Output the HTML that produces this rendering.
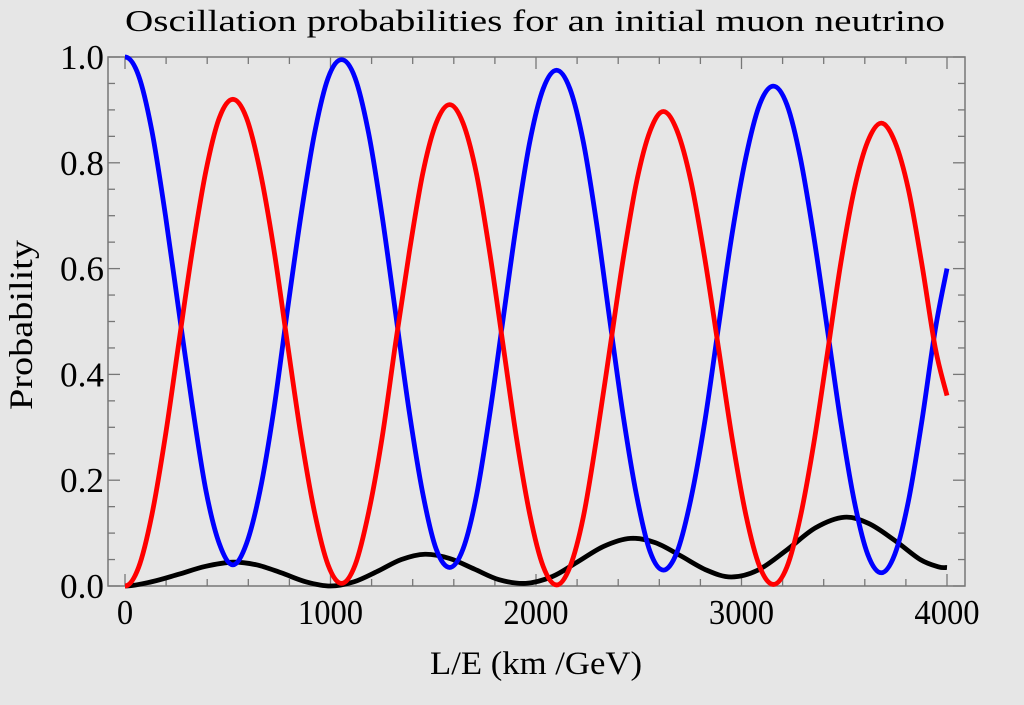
<!DOCTYPE html>
<html><head><meta charset="utf-8"><style>
body{margin:0;background:#e6e6e6;}
svg{display:block;font-family:"Liberation Serif",serif;}
</style></head><body>
<svg id="chart" width="1024" height="705" viewBox="0 0 1024 705">
<rect x="0" y="0" width="1024" height="705" fill="#e6e6e6"/>
<text x="125" y="31" font-size="31" textLength="820" lengthAdjust="spacingAndGlyphs">Oscillation probabilities for an initial muon neutrino</text>
<g id="axes"></g>
<g id="series"></g>
<text x="430" y="674" font-size="33" textLength="212" lengthAdjust="spacingAndGlyphs">L/E (km /GeV)</text>
<text transform="translate(32,410) rotate(-90)" font-size="33" textLength="170" lengthAdjust="spacingAndGlyphs">Probability</text>
</svg>
<script>
const xTicks=[0,1000,2000,3000,4000];
const yTicks=[0,0.2,0.4,0.6,0.8,1.0];
const yTickLabels=["0.0","0.2","0.4","0.6","0.8","1.0"];
const blueX=[0,66,131,197,262,328,394,459,525,591,657,723,790,856,922,988,1054,1120,1186,1251,1317,1383,1449,1514,1580,1645,1710,1775,1840,1905,1970,2035,2100,2165,2230,2295,2360,2425,2490,2555,2620,2687,2754,2821,2888,2954,3021,3088,3155,3221,3286,3352,3418,3483,3549,3614,3680,3746,3812,3877,3943,4000];
const blueY=[1.0,0.965,0.86,0.70,0.52,0.34,0.18,0.08,0.04,0.08,0.18,0.33,0.52,0.70,0.855,0.96,0.995,0.96,0.855,0.70,0.515,0.33,0.175,0.07,0.035,0.07,0.17,0.325,0.505,0.685,0.84,0.94,0.975,0.94,0.84,0.685,0.50,0.32,0.17,0.065,0.03,0.065,0.165,0.31,0.49,0.665,0.81,0.91,0.945,0.91,0.81,0.66,0.485,0.31,0.16,0.06,0.025,0.06,0.16,0.31,0.485,0.6];
const redX=blueX.slice();
const redY=[0,0.035,0.135,0.285,0.46,0.635,0.785,0.885,0.92,0.885,0.785,0.64,0.46,0.285,0.14,0.04,0.005,0.04,0.14,0.28,0.46,0.63,0.78,0.875,0.91,0.875,0.78,0.63,0.455,0.28,0.135,0.037,0.002,0.036,0.13,0.28,0.45,0.62,0.765,0.86,0.897,0.86,0.765,0.62,0.45,0.28,0.135,0.037,0.003,0.036,0.13,0.27,0.44,0.61,0.75,0.84,0.875,0.84,0.75,0.61,0.45,0.36];
const blackX=[0,130,260,390,525,640,760,880,1000,1115,1230,1345,1460,1580,1700,1820,1950,2080,2200,2330,2460,2580,2700,2830,2950,3080,3220,3360,3500,3620,3750,3870,3960,4000];
const blackY=[0,0.008,0.022,0.037,0.045,0.04,0.025,0.008,0.0,0.008,0.028,0.05,0.06,0.052,0.032,0.012,0.005,0.018,0.045,0.075,0.09,0.082,0.058,0.03,0.017,0.03,0.068,0.11,0.13,0.118,0.085,0.05,0.036,0.035];
const L=108,R=965,T=57,B=586,X0=125,X1=947;
const sx=v=>X0+(v/4000)*(X1-X0);
const sy=v=>B-v*(B-T);
const NS="http://www.w3.org/2000/svg";
const axes=document.getElementById('axes'),series=document.getElementById('series');
function mk(t,a,p){const e=document.createElementNS(NS,t);for(const k in a)e.setAttribute(k,a[k]);p.appendChild(e);return e;}
const fr=mk('rect',{x:L,y:T,width:R-L,height:B-T,fill:'none',stroke:'#777','stroke-width':1.5},axes);


for(let v=0;v<=4000;v+=200){const major=v%1000===0;const len=major?12:7;const x=sx(v);
 const t1=mk('line',{x1:x,y1:B,x2:x,y2:B-len,stroke:'#777','stroke-width':1.3},axes);
 
 
 const t2=mk('line',{x1:x,y1:T,x2:x,y2:T+len,stroke:'#777','stroke-width':1.3},axes);
 
 }
for(let i=0;i<=20;i++){const v=i*0.05;const major=i%4===0;const len=major?12:7;const y=sy(v);
 const t1=mk('line',{x1:L,y1:y,x2:L+len,y2:y,stroke:'#777','stroke-width':1.3},axes);
 
 
 const t2=mk('line',{x1:R,y1:y,x2:R-len,y2:y,stroke:'#777','stroke-width':1.3},axes);
 
 }
xTicks.forEach(v=>{const s=String(v);const w=s.length*16.3;
 const t=mk('text',{x:sx(v)-w/2,y:624,'font-size':35,textLength:w,lengthAdjust:'spacingAndGlyphs'},axes);t.textContent=s;
 
 });
yTicks.forEach((v,i)=>{const t=mk('text',{x:60,y:sy(v)+12,'font-size':35,textLength:44,lengthAdjust:'spacingAndGlyphs'},axes);t.textContent=yTickLabels[i];
 
 });
function path(xs,ys){const p=xs.map((x,i)=>[sx(x),sy(ys[i])]);let d='M'+p[0][0]+','+p[0][1];
 for(let i=0;i<p.length-1;i++){const p0=p[i-1]||[2*p[0][0]-p[1][0],p[1][1]],p1=p[i],p2=p[i+1],p3=p[i+2]||p2;
  d+=' C'+(p1[0]+(p2[0]-p0[0])/6)+','+(p1[1]+(p2[1]-p0[1])/6)+' '+(p2[0]-(p3[0]-p1[0])/6)+','+(p2[1]-(p3[1]-p1[1])/6)+' '+p2[0]+','+p2[1];}
 return d;}
const lb=mk('path',{d:path(blackX,blackY),fill:'none',stroke:'#000','stroke-width':4.8},series);


const lbl=mk('path',{d:path(blueX,blueY),fill:'none',stroke:'#0000ff','stroke-width':4.8},series);


const lr=mk('path',{d:path(redX,redY),fill:'none',stroke:'#ff0000','stroke-width':4.8},series);


</script>
</body></html>
